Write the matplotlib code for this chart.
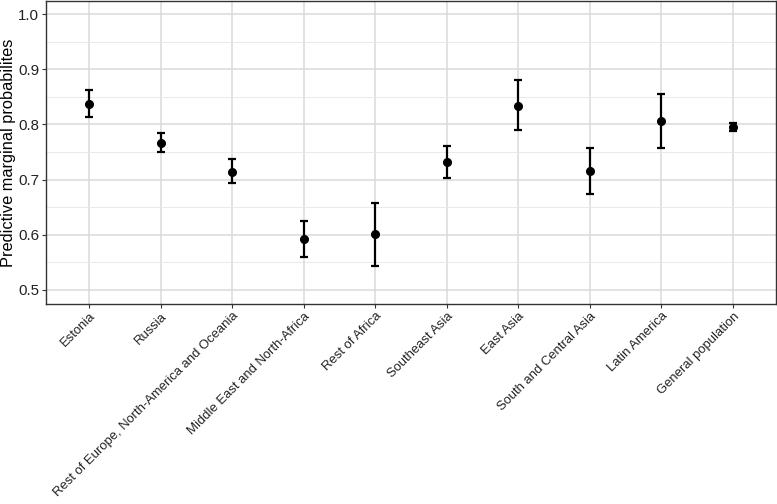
import matplotlib.pyplot as plt
import numpy as np

plt.rcParams['font.family'] = ['Liberation Sans', 'DejaVu Sans']

regions = ['Estonia', 'Russia', 'Rest of Europe, North-America and Oceania',
           'Middle East and North-Africa', 'Rest of Africa', 'Southeast Asia',
           'East Asia', 'South and Central Asia', 'Latin America', 'General population']
prob = [0.837, 0.767, 0.714, 0.592, 0.601, 0.731, 0.834, 0.716, 0.807, 0.796]
lower = [0.813, 0.750, 0.693, 0.560, 0.544, 0.702, 0.790, 0.674, 0.758, 0.788]
upper = [0.862, 0.785, 0.737, 0.625, 0.657, 0.761, 0.880, 0.758, 0.855, 0.803]

x = np.arange(len(regions))
prob = np.array(prob)
err = [prob - np.array(lower), np.array(upper) - prob]

fig = plt.figure(figsize=(7.77, 5.04), dpi=100)
ax = fig.add_axes([46 / 777, 1 - 304 / 504, (776 - 46) / 777, (304 - 1) / 504])

ax.errorbar(x, prob, yerr=err, fmt='o', color='black', ms=5.5,
            elinewidth=1.6, capsize=3.2, capthick=1.6, zorder=3)

ax.set_xlim(-0.6, 9.6)
ax.set_ylim(0.4746, 1.0236)
ax.set_yticks([0.5, 0.6, 0.7, 0.8, 0.9, 1.0])
ax.set_yticks([0.55, 0.65, 0.75, 0.85, 0.95], minor=True)
ax.set_yticklabels(['0.5', '0.6', '0.7', '0.8', '0.9', '1.0'])
ax.set_xticks(x)
ax.set_xticklabels(regions, rotation=45, ha='right', rotation_mode='anchor')

ax.grid(which='major', color='#dadada', linewidth=1.1)
ax.grid(which='minor', axis='y', color='#e6e6e6', linewidth=0.6)
ax.set_axisbelow(True)

ax.tick_params(axis='both', which='major', length=3, color='#333333',
               labelcolor='#222222', pad=2)
ax.tick_params(axis='x', labelsize=9.4, pad=1.5)
ax.tick_params(axis='y', labelsize=10.8)
ax.tick_params(axis='y', which='minor', length=0)
for s in ax.spines.values():
    s.set_color('#333333')
    s.set_linewidth(1.0)

ax.set_ylabel('Predictive marginal probabilites', fontsize=11.8)
ax.yaxis.set_label_coords(-0.041, 0.5)

fig.savefig('out.png', dpi=100)
